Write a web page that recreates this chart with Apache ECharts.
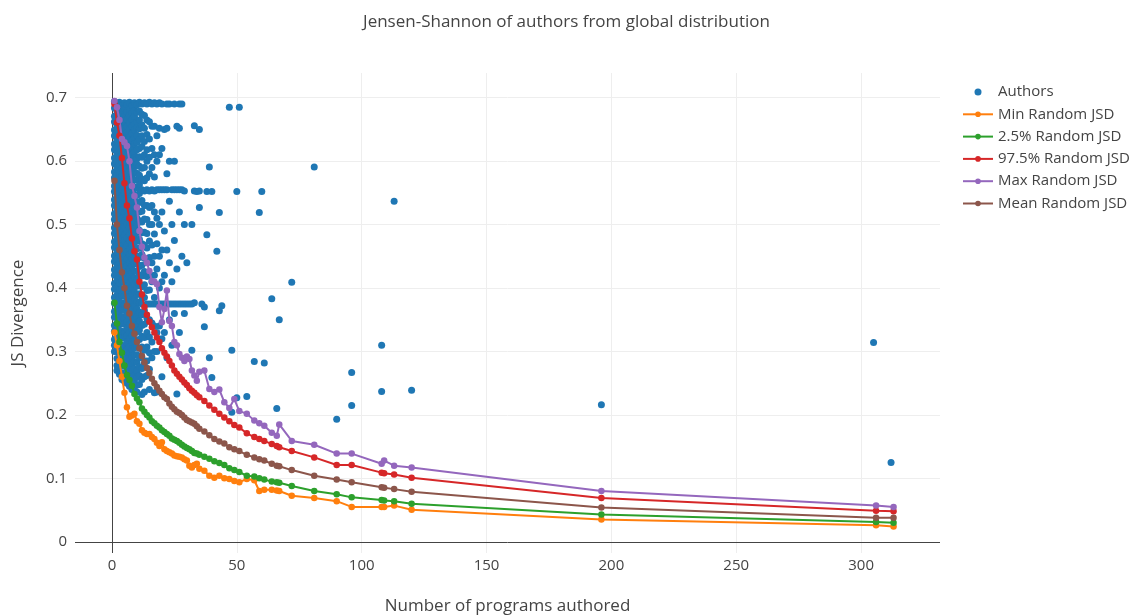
<!DOCTYPE html>
<html>
<head>
<meta charset="utf-8">
<script src="https://cdn.jsdelivr.net/npm/echarts@6/dist/echarts.min.js"></script>
<style>
  html, body { margin: 0; padding: 0; background: #fff; }
  #js-chart { width: 1133px; height: 616px; }
</style>
</head>
<body>
<div id="js-chart"></div>
<script>
// 作者JSD散点（密集部分按作品数分列）
var coreCounts = [1, 2, 3, 4, 5, 6, 7, 8, 9, 10, 11, 12, 13, 14, 15, 16, 17, 18, 19, 20];
var coreScores = [
  [0.694,0.684,0.671,0.662,0.649,0.64,0.627,0.618,0.605,0.596,0.583,0.574,0.561,0.552,0.539,0.53,0.517,0.508,0.495,0.486,0.473,0.464,0.451,0.442,0.429,0.42,0.407,0.398,0.385,0.376,0.363,0.354,0.341,0.332,0.319,0.31,0.3],
  [0.69,0.679,0.667,0.657,0.645,0.634,0.622,0.612,0.6,0.59,0.578,0.567,0.556,0.545,0.534,0.523,0.511,0.501,0.489,0.478,0.467,0.456,0.445,0.434,0.422,0.412,0.4,0.389,0.378,0.367,0.356,0.345,0.333,0.323,0.311,0.3,0.289,0.278,0.27],
  [0.693,0.682,0.672,0.661,0.65,0.639,0.628,0.617,0.606,0.595,0.584,0.573,0.562,0.551,0.54,0.529,0.518,0.507,0.496,0.485,0.474,0.463,0.452,0.441,0.43,0.419,0.408,0.397,0.386,0.375,0.364,0.353,0.342,0.331,0.32,0.309,0.298,0.287,0.276,0.264],
  [0.688,0.677,0.665,0.656,0.644,0.633,0.621,0.611,0.599,0.589,0.577,0.566,0.555,0.544,0.533,0.522,0.51,0.5,0.488,0.477,0.466,0.455,0.444,0.433,0.421,0.411,0.399,0.388,0.377,0.366,0.355,0.344,0.332,0.322,0.31,0.299,0.288,0.277,0.266,0.256],
  [0.692,0.683,0.671,0.66,0.651,0.638,0.629,0.616,0.607,0.594,0.585,0.572,0.563,0.55,0.541,0.528,0.519,0.506,0.497,0.484,0.475,0.462,0.453,0.44,0.431,0.418,0.409,0.396,0.387,0.374,0.365,0.352,0.343,0.33,0.321,0.308,0.299,0.286,0.277,0.264,0.253],
  [0.689,0.678,0.666,0.655,0.645,0.633,0.623,0.611,0.601,0.589,0.579,0.567,0.557,0.545,0.535,0.523,0.513,0.501,0.49,0.479,0.468,0.457,0.446,0.435,0.424,0.413,0.402,0.391,0.38,0.369,0.358,0.347,0.336,0.325,0.314,0.303,0.292,0.281,0.27,0.259,0.25],
  [0.693,0.681,0.672,0.66,0.65,0.638,0.628,0.616,0.606,0.594,0.584,0.572,0.562,0.55,0.54,0.528,0.518,0.506,0.496,0.484,0.474,0.462,0.452,0.44,0.43,0.418,0.408,0.396,0.386,0.374,0.364,0.352,0.342,0.33,0.32,0.308,0.298,0.286,0.276,0.264,0.254,0.245],
  [0.688,0.676,0.666,0.655,0.644,0.633,0.622,0.611,0.6,0.589,0.578,0.567,0.556,0.545,0.534,0.523,0.512,0.501,0.49,0.479,0.468,0.457,0.446,0.435,0.424,0.413,0.402,0.391,0.38,0.369,0.358,0.347,0.336,0.325,0.314,0.303,0.292,0.281,0.27,0.259,0.248,0.24],
  [0.692,0.68,0.671,0.658,0.649,0.636,0.627,0.614,0.605,0.592,0.583,0.57,0.559,0.548,0.537,0.526,0.515,0.504,0.493,0.482,0.471,0.46,0.449,0.438,0.427,0.416,0.405,0.394,0.383,0.372,0.361,0.35,0.339,0.328,0.317,0.306,0.295,0.284,0.273,0.262,0.251,0.244],
  [0.689,0.677,0.662,0.653,0.641,0.63,0.618,0.604,0.595,0.581,0.571,0.558,0.546,0.535,0.523,0.51,0.498,0.487,0.474,0.462,0.451,0.439,0.426,0.414,0.403,0.39,0.378,0.367,0.355,0.342,0.331,0.318,0.307,0.295,0.283,0.27,0.259,0.247,0.236],
  [0.693,0.679,0.665,0.651,0.634,0.62,0.607,0.592,0.578,0.563,0.549,0.535,0.52,0.506,0.491,0.477,0.463,0.448,0.434,0.42,0.405,0.391,0.377,0.362,0.348,0.334,0.319,0.305,0.291,0.276,0.262,0.248],
  [0.69,0.674,0.657,0.64,0.623,0.606,0.589,0.572,0.555,0.538,0.521,0.504,0.487,0.47,0.453,0.436,0.419,0.402,0.385,0.375,0.358,0.341,0.324,0.307,0.29,0.273,0.256,0.232],
  [0.692,0.672,0.652,0.631,0.61,0.59,0.569,0.553,0.53,0.509,0.488,0.468,0.447,0.426,0.405,0.385,0.364,0.343,0.322,0.302,0.281,0.26,0.236],
  [0.69,0.665,0.642,0.618,0.6,0.574,0.555,0.53,0.508,0.486,0.463,0.44,0.418,0.396,0.375,0.352,0.33,0.307,0.285,0.262],
  [0.693,0.662,0.635,0.606,0.58,0.553,0.527,0.5,0.474,0.448,0.422,0.397,0.375,0.35,0.323,0.298,0.272,0.24],
  [0.69,0.655,0.62,0.59,0.555,0.53,0.5,0.468,0.44,0.41,0.375,0.345,0.315,0.29],
  [0.692,0.655,0.61,0.575,0.553,0.52,0.485,0.45,0.42,0.385,0.375,0.34,0.3,0.235],
  [0.69,0.64,0.6,0.555,0.51,0.47,0.43,0.375,0.33,0.3,0.236],
  [0.692,0.652,0.61,0.555,0.5,0.45,0.4,0.375,0.34],
  [0.69,0.62,0.555,0.52,0.46,0.41,0.375,0.32,0.26]
];

// 稀疏的作者点
var sparseCounts = [21,21,21,21,21,21,22,22,22,22,22,22,22,23,23,23,23,23,23,24,24,24,24,24,
  25,25,25,25,25,25,26,26,26,26,26,27,27,27,27,27,27,28,28,28,28,29,29,29,29,30,30,31,32,32,32,
  33,33,33,34,35,35,35,36,37,37,38,38,39,39,40,40,42,43,43,44,47,48,48,50,50,51,54,57,59,60,61,
  64,66,67,72,81,90,96,96,108,108,113,120,196,305,312];
var sparseScores = [0.65,0.555,0.49,0.42,0.375,0.33,0.69,0.652,0.58,0.555,0.46,0.375,0.29,0.69,0.6,0.537,0.44,0.375,0.35,0.555,0.5,0.41,0.375,0.31,
  0.69,0.6,0.555,0.475,0.375,0.36,0.655,0.555,0.43,0.375,0.233,0.69,0.652,0.555,0.52,0.375,0.33,0.69,0.555,0.45,0.375,0.553,0.5,0.375,0.36,0.375,0.44,0.375,0.5,0.375,0.302,
  0.656,0.377,0.553,0.552,0.65,0.527,0.553,0.375,0.37,0.339,0.552,0.484,0.591,0.29,0.552,0.259,0.458,0.519,0.364,0.372,0.685,0.302,0.204,0.552,0.227,0.685,0.229,0.284,0.519,0.552,0.282,
  0.383,0.21,0.35,0.409,0.591,0.193,0.267,0.215,0.31,0.237,0.537,0.239,0.216,0.314,0.125];

// 随机JSD曲线
var lineCounts = [1,2,3,4,5,6,7,8,9,10,11,12,13,14,15,16,17,18,19,20,21,22,23,24,25,26,27,28,29,30,
  31,32,33,34,35,37,39,41,43,45,47,49,51,54,57,59,61,64,66,67,72,81,90,96,108,109,113,120,196,306,313];
var minJSD = [0.33,0.31,0.285,0.26,0.235,0.212,0.197,0.199,0.202,0.19,0.186,0.176,0.172,0.17,0.17,0.165,0.162,0.156,0.151,0.157,
  0.146,0.143,0.141,0.139,0.136,0.135,0.134,0.133,0.13,0.128,0.12,0.117,0.121,0.123,0.115,0.112,0.104,0.101,0.104,0.1,
  0.099,0.096,0.094,0.099,0.097,0.08,0.082,0.082,0.081,0.08,0.0725,0.069,0.064,0.055,0.055,0.055,0.057,0.0505,0.035,0.026,0.024];
var lowJSD = [0.377,0.344,0.315,0.298,0.278,0.263,0.255,0.246,0.233,0.226,0.22,0.21,0.205,0.2,0.196,0.19,0.187,0.183,0.18,0.176,
  0.173,0.17,0.167,0.163,0.161,0.159,0.156,0.153,0.15,0.148,0.146,0.143,0.14,0.139,0.137,0.134,0.131,0.127,0.124,0.121,
  0.116,0.113,0.11,0.104,0.103,0.1,0.098,0.095,0.094,0.093,0.088,0.08,0.075,0.07,0.066,0.065,0.064,0.06,0.043,0.031,0.03];
var highJSD = [0.69,0.661,0.64,0.605,0.565,0.53,0.51,0.478,0.458,0.445,0.41,0.39,0.37,0.358,0.347,0.338,0.33,0.322,0.315,0.305,
  0.298,0.292,0.285,0.278,0.27,0.265,0.26,0.256,0.251,0.247,0.242,0.238,0.235,0.231,0.228,0.222,0.215,0.208,0.202,0.196,
  0.19,0.184,0.18,0.171,0.165,0.162,0.159,0.154,0.151,0.149,0.143,0.133,0.121,0.121,0.109,0.108,0.106,0.101,0.069,0.049,0.048];
var maxJSD = [0.695,0.685,0.665,0.635,0.63,0.624,0.6,0.561,0.545,0.527,0.49,0.465,0.448,0.44,0.427,0.411,0.41,0.406,0.37,0.346,
  0.367,0.396,0.348,0.34,0.315,0.31,0.296,0.29,0.285,0.292,0.288,0.27,0.262,0.254,0.268,0.27,0.241,0.236,0.24,0.22,
  0.211,0.225,0.206,0.202,0.191,0.187,0.183,0.172,0.167,0.185,0.159,0.153,0.139,0.139,0.123,0.128,0.12,0.117,0.08,0.057,0.055];
var meanJSD = [0.569,0.5,0.46,0.425,0.4,0.372,0.36,0.34,0.328,0.315,0.305,0.293,0.283,0.274,0.266,0.257,0.25,0.244,0.238,0.233,
  0.228,0.225,0.218,0.213,0.209,0.205,0.203,0.2,0.196,0.192,0.19,0.188,0.186,0.182,0.178,0.174,0.168,0.162,0.158,0.155,
  0.149,0.146,0.143,0.137,0.133,0.13,0.128,0.123,0.12,0.119,0.113,0.104,0.098,0.094,0.086,0.085,0.083,0.079,0.054,0.038,0.038];

var xTicks = [0, 50, 100, 150, 200, 250, 300];
var yTicks = [0, 0.1, 0.2, 0.3, 0.4, 0.5, 0.6, 0.7];

// 组装散点
var authorPoints = [];
coreCounts.forEach(function (n, i) {
  coreScores[i].forEach(function (s) { authorPoints.push([n, s]); });
});
sparseCounts.forEach(function (n, i) {
  authorPoints.push([n, sparseScores[i]]);
});

function pairUp(ys) {
  return lineCounts.map(function (n, i) { return [n, ys[i]]; });
}

function lineSeries(name, color, ys) {
  return {
    name: name,
    type: 'line',
    data: pairUp(ys),
    symbol: 'circle',
    symbolSize: 6.5,
    showSymbol: true,
    showAllSymbol: true,
    lineStyle: { color: color, width: 2 },
    itemStyle: { color: color },
    emphasis: { disabled: true }
  };
}

var chart = echarts.init(document.getElementById('js-chart'));

var font = '"Open Sans", "Noto Sans", sans-serif';

chart.setOption({
  animation: false,
  textStyle: { fontFamily: font },
  title: {
    text: 'Jensen-Shannon of authors from global distribution',
    left: 'center',
    top: 9,
    textStyle: { fontFamily: font, fontSize: 17, fontWeight: 'normal', color: '#444' }
  },
  legend: {
    orient: 'vertical',
    left: 957,
    top: 78,
    itemWidth: 30,
    itemHeight: 7,
    itemGap: 4.3,
    textStyle: { fontFamily: font, fontSize: 15, color: '#444', lineHeight: 18 },
    data: ['Authors', 'Min Random JSD', '2.5% Random JSD', '97.5% Random JSD', 'Max Random JSD', 'Mean Random JSD']
  },
  grid: { left: 75, right: 193, top: 73, bottom: 63, outerBoundsMode: 'none' },
  xAxis: {
    type: 'value',
    min: -14.8,
    max: 331.6,
    name: 'Number of programs authored',
    nameLocation: 'middle',
    nameGap: 45,
    nameTextStyle: { fontFamily: font, fontSize: 17, color: '#444' },
    axisLine: { show: false, onZero: false },
    axisTick: { show: false, customValues: xTicks },
    axisLabel: { customValues: xTicks, margin: 5, fontSize: 15, color: '#444', fontFamily: font },
    splitLine: { show: true, lineStyle: { color: '#eee', width: 1 } }
  },
  yAxis: {
    type: 'value',
    min: -0.0177,
    max: 0.739,
    name: 'JS Divergence',
    nameLocation: 'middle',
    nameGap: 48,
    nameTextStyle: { fontFamily: font, fontSize: 17, color: '#444' },
    axisLine: { show: false, onZero: false },
    axisTick: { show: false, customValues: yTicks },
    axisLabel: { customValues: yTicks, margin: 8, fontSize: 15, color: '#444', fontFamily: font },
    splitLine: { show: true, lineStyle: { color: '#eee', width: 1 } }
  },
  series: [
    {
      name: 'Authors',
      type: 'scatter',
      data: authorPoints,
      symbol: 'circle',
      symbolSize: 7,
      itemStyle: { color: '#1f77b4', opacity: 1 },
      emphasis: { disabled: true },
      markLine: {
        silent: true,
        z: 1,
        symbol: ['none', 'none'],
        label: { show: false },
        lineStyle: { color: '#444', width: 1, type: 'solid' },
        data: [{ xAxis: 0 }, { yAxis: 0 }]
      }
    },
    lineSeries('Min Random JSD', '#ff7f0e', minJSD),
    lineSeries('2.5% Random JSD', '#2ca02c', lowJSD),
    lineSeries('97.5% Random JSD', '#d62728', highJSD),
    lineSeries('Max Random JSD', '#9467bd', maxJSD),
    lineSeries('Mean Random JSD', '#8c564b', meanJSD)
  ]
});
</script>
</body>
</html>
